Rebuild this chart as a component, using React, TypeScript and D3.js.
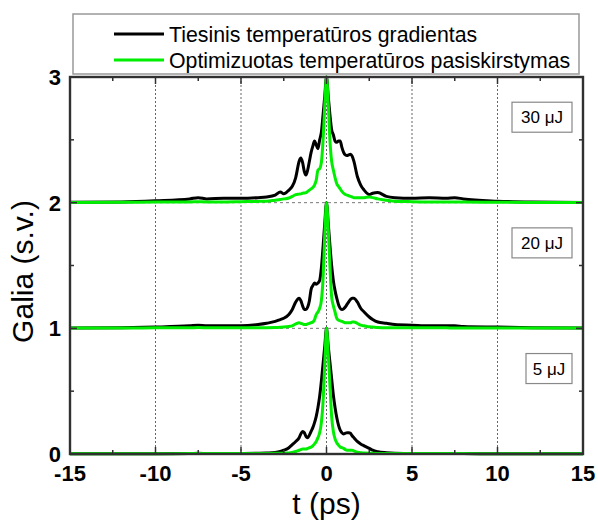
import React from "react";
import * as d3 from "d3";

// ---- data ----
const timePs = [-15, -12, -10, -8, -7.5, -7, -6, -5, -4, -3.5,
  -3, -2.7, -2.5, -2.2, -2, -1.8, -1.6, -1.5, -1.4, -1.3,
  -1.2, -1.1, -1, -0.9, -0.8, -0.7, -0.6, -0.5, -0.4, -0.3,
  -0.2, -0.1, 0,
  0.1, 0.2, 0.3, 0.4, 0.5, 0.6, 0.7, 0.8, 0.9, 1,
  1.1, 1.2, 1.3, 1.4, 1.5, 1.6, 1.8, 2, 2.2, 2.5,
  2.7, 3, 3.5, 4, 5, 6, 7, 7.5, 8, 10, 12, 15];

// 5 uJ
const linear5 = [0.002, 0.002, 0.002, 0.004, 0.006, 0.004, 0.003, 0.004, 0.006, 0.008,
  0.012, 0.02, 0.03, 0.05, 0.075, 0.10, 0.13, 0.16, 0.18, 0.17,
  0.14, 0.13, 0.15, 0.18, 0.21, 0.25, 0.30, 0.37, 0.46, 0.58,
  0.72, 0.86, 1.0,
  0.86, 0.73, 0.6, 0.47, 0.37, 0.29, 0.23, 0.19, 0.17, 0.16,
  0.165, 0.17, 0.17, 0.165, 0.145, 0.13, 0.10, 0.08, 0.065, 0.045,
  0.03, 0.018, 0.01, 0.006, 0.004, 0.003, 0.004, 0.003, 0.003, 0.002, 0.002, 0.002];
const optimized5 = [0.002, 0.002, 0.002, 0.003, 0.003, 0.003, 0.003, 0.003, 0.003, 0.004,
  0.005, 0.006, 0.007, 0.008, 0.012, 0.02, 0.03, 0.035, 0.04, 0.04,
  0.04, 0.045, 0.05, 0.055, 0.065, 0.08, 0.10, 0.13, 0.17, 0.25,
  0.42, 0.72, 1.0,
  0.8, 0.55, 0.3, 0.18, 0.12, 0.09, 0.07, 0.055, 0.05, 0.045,
  0.035, 0.03, 0.03, 0.03, 0.03, 0.025, 0.015, 0.01, 0.008, 0.006,
  0.005, 0.004, 0.003, 0.003, 0.003, 0.003, 0.003, 0.003, 0.003, 0.002, 0.002, 0.002];

// 20 uJ
const linear20 = [0.003, 0.005, 0.01, 0.02, 0.025, 0.02, 0.02, 0.02, 0.03, 0.04,
  0.055, 0.07, 0.08, 0.11, 0.15, 0.21, 0.24, 0.22, 0.18, 0.15,
  0.15, 0.17, 0.22, 0.31, 0.34, 0.36, 0.35, 0.36, 0.38, 0.48,
  0.65, 0.84, 1.0,
  0.84, 0.66, 0.5, 0.38, 0.30, 0.24, 0.19, 0.16, 0.15, 0.155,
  0.17, 0.19, 0.21, 0.23, 0.24, 0.24, 0.21, 0.16, 0.13, 0.09,
  0.07, 0.05, 0.04, 0.03, 0.025, 0.02, 0.02, 0.02, 0.015, 0.01, 0.005, 0.003];
const optimized20 = [0.002, 0.003, 0.004, 0.005, 0.006, 0.005, 0.004, 0.004, 0.005, 0.005,
  0.006, 0.008, 0.01, 0.015, 0.02, 0.035, 0.045, 0.04, 0.035, 0.03,
  0.03, 0.035, 0.04, 0.045, 0.05, 0.07, 0.11, 0.13, 0.16, 0.22,
  0.4, 0.75, 1.0,
  0.8, 0.5, 0.25, 0.18, 0.13, 0.08, 0.065, 0.06, 0.055, 0.05,
  0.045, 0.045, 0.045, 0.045, 0.05, 0.05, 0.04, 0.025, 0.02, 0.012,
  0.01, 0.007, 0.005, 0.005, 0.004, 0.004, 0.004, 0.003, 0.003, 0.002, 0.002, 0.002];

// 30 uJ
const linear30 = [0.003, 0.006, 0.015, 0.03, 0.04, 0.03, 0.035, 0.035, 0.04, 0.045,
  0.06, 0.085, 0.07, 0.1, 0.13, 0.2, 0.33, 0.355, 0.32, 0.25,
  0.22, 0.26, 0.33, 0.40, 0.45, 0.49, 0.46, 0.43, 0.5, 0.56,
  0.7, 0.85, 1.0,
  0.85, 0.7, 0.58, 0.54, 0.49, 0.48, 0.49, 0.49, 0.44, 0.40,
  0.38, 0.375, 0.38, 0.385, 0.37, 0.33, 0.21, 0.14, 0.10, 0.065,
  0.075, 0.08, 0.05, 0.04, 0.035, 0.04, 0.035, 0.04, 0.03, 0.012, 0.005, 0.002];
const optimized30 = [0.002, 0.003, 0.005, 0.006, 0.007, 0.006, 0.006, 0.008, 0.01, 0.012,
  0.02, 0.025, 0.03, 0.037, 0.05, 0.064, 0.068, 0.07, 0.075, 0.077,
  0.08, 0.09, 0.10, 0.11, 0.12, 0.14, 0.18, 0.26, 0.27, 0.32,
  0.5, 0.78, 1.0,
  0.8, 0.5, 0.33, 0.26, 0.2, 0.15, 0.13, 0.11, 0.09, 0.075,
  0.065, 0.06, 0.055, 0.05, 0.045, 0.04, 0.04, 0.04, 0.04, 0.045,
  0.04, 0.03, 0.02, 0.012, 0.008, 0.006, 0.006, 0.005, 0.005, 0.003, 0.002, 0.002];

const energyLabels = ["5 \u03bcJ", "20 \u03bcJ", "30 \u03bcJ"];
const offsets = [0, 1, 2];
const linearSeries = [linear5, linear20, linear30];
const optimizedSeries = [optimized5, optimized20, optimized30];
const legendLabels = ["Tiesinis temperat\u016bros gradientas", "Optimizuotas temperat\u016bros pasiskirstymas"];
const seriesColors = ["#000000", "#00ee00"];

const xTicks = [-15, -10, -5, 0, 5, 10, 15];
const xMinorTicks = [-12.5, -7.5, -2.5, 2.5, 7.5, 12.5];
const xGrid = [-10, -5, 0, 5, 10];
const yTicks = [0, 1, 2, 3];
const yMinorTicks = [0.5, 1.5, 2.5];
const yGrid = [1, 2];

export default function App() {
  const W = 598, H = 520;
  const L = 70, R = 583, T = 77, B = 454;
  const x = d3.scaleLinear().domain([-15, 15]).range([L, R]);
  const y = d3.scaleLinear().domain([0, 3]).range([B, T]);
  const font = "Arial, 'Liberation Sans', sans-serif";
  const axisColor = "#303030";

  const lineFor = (vals: number[], off: number) =>
    d3.line<number>()
      .x((_, i) => x(timePs[i]))
      .y((v) => y(v + off))
      .curve(d3.curveMonotoneX)(vals) as string;

  const boxH = 30;

  return (
    <svg width={W} height={H} style={{ position: "absolute", left: 0, top: 0 }}>
      {/* grid */}
      {xGrid.map((t) => (
        <line key={"gx" + t} x1={x(t)} x2={x(t)} y1={T} y2={B} stroke="#666" strokeWidth={1}
          strokeDasharray="2,2" />
      ))}
      {yGrid.map((v) => (
        <line key={"gy" + v} x1={L} x2={R} y1={y(v)} y2={y(v)} stroke="#777" strokeWidth={1}
          strokeDasharray="3,3" />
      ))}
      {/* curves */}
      {offsets.map((off, k) => (
        <g key={"s" + k}>
          <path d={lineFor(linearSeries[k], off)} fill="none" stroke={seriesColors[0]} strokeWidth={3}
            strokeLinejoin="round" />
          <path d={lineFor(optimizedSeries[k], off)} fill="none" stroke={seriesColors[1]} strokeWidth={3}
            strokeLinejoin="round" />
        </g>
      ))}
      {/* tick labels */}
      {xTicks.map((t) => (
        <text key={"xl" + t} x={x(t)} y={481} textAnchor="middle" fontSize={22} fontWeight="bold"
          fontFamily={font} fill="#000">
          {t}
        </text>
      ))}
      {yTicks.map((v) => (
        <text key={"yl" + v} x={61} y={y(v)} dy="0.36em" textAnchor="end" fontSize={22} fontWeight="bold"
          fontFamily={font} fill="#000">
          {v}
        </text>
      ))}
      {/* axis titles */}
      <text x={x(0)} y={514} textAnchor="middle" fontSize={30} fontFamily={font} fill="#000">t (ps)</text>
      <text transform={`translate(33, ${y(1.5) + 6}) rotate(-90)`} textAnchor="middle" fontSize={30}
        fontFamily={font} fill="#000">
        Galia (s.v.)
      </text>
      {/* energy labels */}
      {offsets.map((off, k) => {
        const label = energyLabels[k];
        const w = k === 0 ? 46 : 60;
        const cy = y(off + 0.68);
        return (
          <g key={"el" + k}>
            <rect x={572 - w} y={cy - boxH / 2} width={w} height={boxH} fill="#fff" stroke="#888" strokeWidth={1.2} />
            <text x={572 - w / 2} y={cy} dy="0.36em" textAnchor="middle" fontSize={17} fontFamily={font}
              fill="#000">{label}</text>
          </g>
        );
      })}
      {/* legend */}
      <rect x={73} y={14} width={506} height={60} fill="#fff" stroke="#999" strokeWidth={1.5} />
      {legendLabels.map((lab, i) => (
        <g key={"lg" + i}>
          <line x1={114} x2={164} y1={34 + i * 26} y2={34 + i * 26} stroke={seriesColors[i]} strokeWidth={3} />
          <text x={169} y={34 + i * 26} dy="0.36em" fontSize={21.3} fontFamily={font} fill="#000">{lab}</text>
        </g>
      ))}
      {/* frame, drawn last */}
      <rect x={L} y={T} width={R - L} height={B - T} fill="none" stroke={axisColor} strokeWidth={2.4} />
      {xTicks.concat(xMinorTicks).map((t) => {
        const len = xTicks.indexOf(t) >= 0 ? 7 : 4;
        return (
          <g key={"xt" + t}>
            <line x1={x(t)} x2={x(t)} y1={B} y2={B - len} stroke={axisColor} strokeWidth={1.5} />
            <line x1={x(t)} x2={x(t)} y1={T} y2={T + len} stroke={axisColor} strokeWidth={1.5} />
          </g>
        );
      })}
      {yTicks.concat(yMinorTicks).map((v) => {
        const len = yTicks.indexOf(v) >= 0 ? 7 : 4;
        return (
          <g key={"yt" + v}>
            <line x1={L} x2={L + len} y1={y(v)} y2={y(v)} stroke={axisColor} strokeWidth={1.5} />
            <line x1={R} x2={R - len} y1={y(v)} y2={y(v)} stroke={axisColor} strokeWidth={1.5} />
          </g>
        );
      })}
    </svg>
  );
}
